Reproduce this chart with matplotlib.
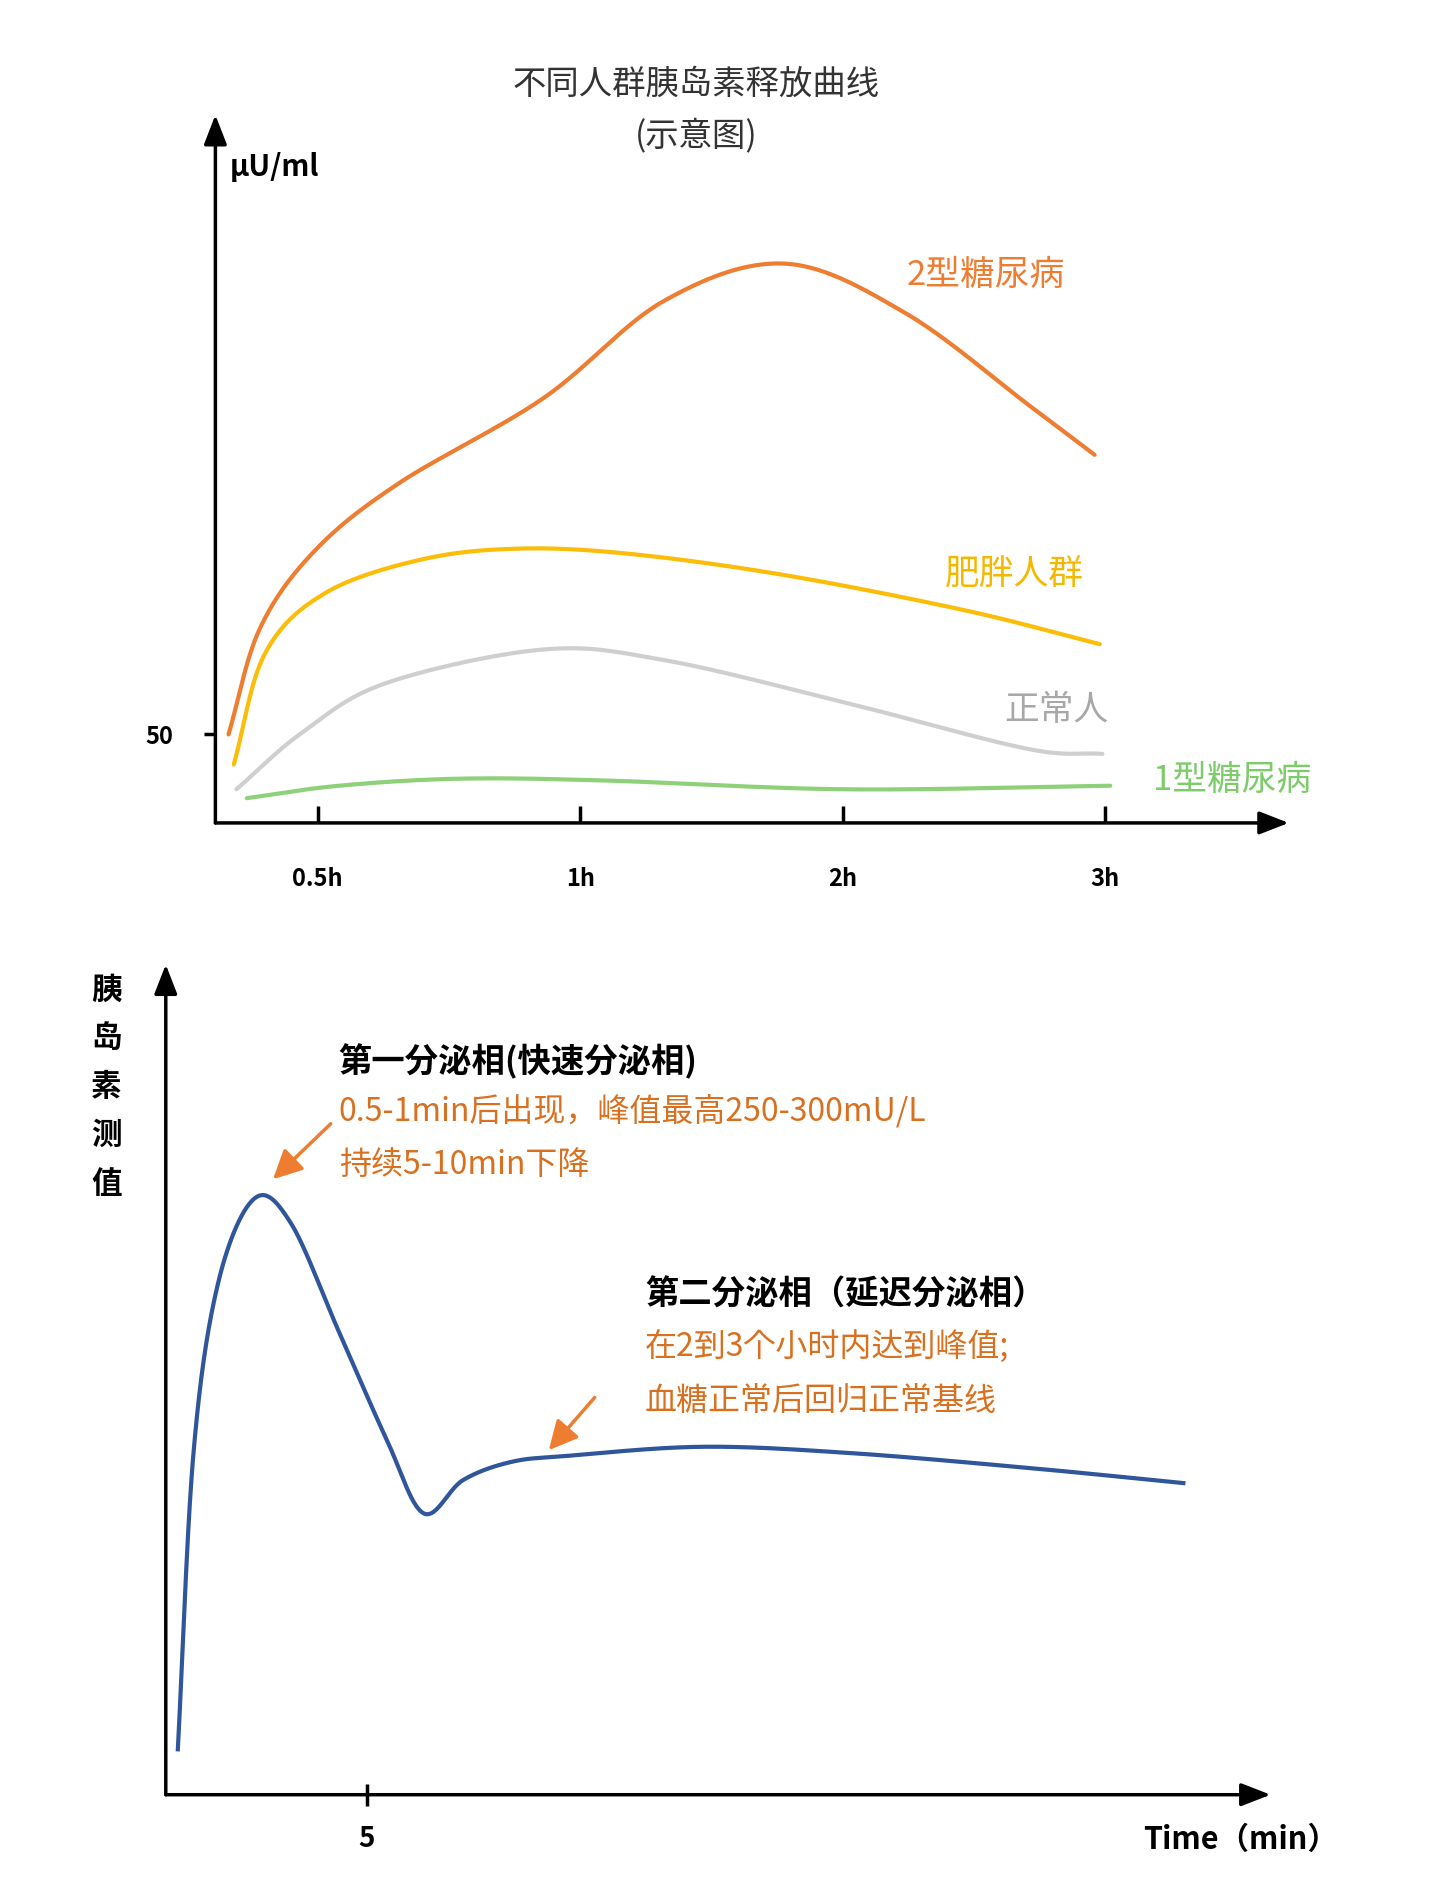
import numpy as np
import matplotlib
matplotlib.use("Agg")
import matplotlib.pyplot as plt
from matplotlib import font_manager as fm

cjk = None
for f in fm.fontManager.ttflist:
    if "CJK" in f.name and ("SC" in f.name or cjk is None):
        cjk = f.name
if cjk is None:
    import glob
    for p in glob.glob("/usr/share/fonts/**/*CJK*", recursive=True):
        try:
            fm.fontManager.addfont(p)
        except Exception:
            pass
    for f in fm.fontManager.ttflist:
        if "CJK" in f.name:
            cjk = f.name
plt.rcParams["font.family"] = [cjk or "Noto Sans CJK SC", "DejaVu Sans"]

# ---- data: top chart (x: tick index 1=0.5h,2=1h,3=2h,4=3h ; y: μU/ml) ----
tick_pos = [1, 2, 3, 4]
tick_labels = ["0.5h", "1h", "2h", "3h"]
t2_x = [0.66, 0.78, 0.99, 1.31, 1.86, 2.32, 2.78, 3.24, 3.71, 3.96]
t2_y = [50, 110, 154, 192, 240, 295, 316, 288, 236, 208]
ob_x = [0.68, 0.80, 1.03, 1.40, 1.77, 2.19, 2.78, 3.47, 3.98]
ob_y = [33, 96, 130, 149, 155, 152, 140, 120, 101]
nm_x = [0.69, 0.94, 1.26, 1.86, 2.32, 3.01, 3.70, 3.99]
nm_y = [19, 51, 79, 98, 92, 68, 42, 39]
t1_x = [0.73, 1.08, 1.54, 2.09, 3.01, 4.02]
t1_y = [14, 21, 25, 24, 19, 21]
series_names = ["2型糖尿病", "肥胖人群", "正常人", "1型糖尿病"]
series_colors = ["#ee7d31", "#fbbd08", "#cfcfcf", "#8fd17a"]
label_colors = ["#ee7d31", "#f5b800", "#a8a8a8", "#7dcc6a"]

# ---- data: bottom chart (time in min, insulin arbitrary units) ----
bt = [0.30, 0.69, 1.30, 2.20, 3.11, 4.31, 5.51, 6.42, 7.4, 8.6, 10.0, 13.34, 16.96, 21.48, 25.33]
by = [15, 113, 169, 197, 189, 153, 117, 93, 104, 110, 112, 115, 113, 108, 103]


def smooth(x, y, n=30):
    p = np.column_stack([x, y]).astype(float)
    p = np.vstack([2 * p[0] - p[1], p, 2 * p[-1] - p[-2]])
    out = []
    t = np.linspace(0, 1, n, endpoint=False)[:, None]
    for i in range(1, len(p) - 2):
        p0, p1, p2, p3 = p[i - 1], p[i], p[i + 1], p[i + 2]
        seg = 0.5 * ((2 * p1) + (-p0 + p2) * t + (2 * p0 - 5 * p1 + 4 * p2 - p3) * t ** 2
                     + (-p0 + 3 * p1 - 3 * p2 + p3) * t ** 3)
        out.append(seg)
    out.append(p[-2][None, :])
    out = np.vstack(out)
    return out[:, 0], out[:, 1]


W, H = 1190.0, 1570.0
fig = plt.figure(figsize=(14.4, 19), dpi=100)


def fx(px):
    return px / W


def fy(py):
    return 1 - py / H


def axes_px(x0, y0, x1, y1):
    return fig.add_axes([fx(x0), fy(y1), fx(x1) - fx(x0), (y1 - y0) / H])


def arrows(ax):
    for s in ax.spines.values():
        s.set_visible(False)
    kw = dict(arrowstyle="-|>,head_length=0.9,head_width=0.35", lw=2.5, color="black",
              shrinkA=0, shrinkB=0, mutation_scale=20)
    ax.annotate("", xy=(1, 0), xytext=(0, 0), xycoords="axes fraction", arrowprops=kw)
    ax.annotate("", xy=(0, 1), xytext=(0, 0), xycoords="axes fraction", arrowprops=kw)


# ---------- top chart ----------
ax = axes_px(178, 95, 1065, 680)
ax.set_xlim(0.61, 4.70)
ax.set_ylim(0, 400)
arrows(ax)
for (x, y), c in zip([(t2_x, t2_y), (ob_x, ob_y), (nm_x, nm_y), (t1_x, t1_y)], series_colors):
    sx, sy = smooth(x, y)
    ax.plot(sx, sy, color=c, lw=3, solid_capstyle="round")
ax.set_xticks(tick_pos)
ax.set_xticklabels(tick_labels, fontsize=17, fontweight="bold")
ax.set_yticks([50])
ax.set_yticklabels(["50"], fontsize=17, fontweight="bold")
ax.tick_params(axis="x", direction="in", length=12, width=2.5, pad=32)
ax.tick_params(axis="y", direction="out", length=8, width=2.5, pad=22)
ax.patch.set_alpha(0)

label_pos = [(815, 228), (838, 475), (873, 587), (1018, 645)]
for name, c, (px, py) in zip(series_names, label_colors, label_pos):
    fig.text(fx(px), fy(py), name, color=c, fontsize=25, ha="center", va="center")

fig.text(fx(575), fy(70), "不同人群胰岛素释放曲线", fontsize=24, ha="center", va="center", color="#333333")
fig.text(fx(575), fy(112), "(示意图)", fontsize=24, ha="center", va="center", color="#333333")
fig.text(fx(190), fy(138), "μU/ml", fontsize=21, fontweight="bold", ha="left", va="center")

# ---------- bottom chart ----------
bx = axes_px(137, 797, 1050, 1483)
bx.set_xlim(0, 27.5)
bx.set_ylim(0, 274.4)
arrows(bx)
sx, sy = smooth(bt, by)
bx.plot(sx, sy, color="#2f559a", lw=3)
bx.set_xticks([5])
bx.set_xticklabels(["5"], fontsize=20, fontweight="bold")
bx.set_yticks([])
bx.tick_params(axis="x", direction="inout", length=16, width=2.5, pad=14)
bx.patch.set_alpha(0)

for i, ch in enumerate("胰岛素测值"):
    fig.text(fx(88), fy(818 + i * 40), ch, fontsize=22, fontweight="bold", ha="center", va="center")

org = "#d9701f"
fig.text(fx(280), fy(877), "第一分泌相(快速分泌相)", fontsize=24, fontweight="bold", ha="left", va="center")
fig.text(fx(280), fy(918), "0.5-1min后出现，峰值最高250-300mU/L", fontsize=23, color=org, ha="left", va="center")
fig.text(fx(280), fy(963), "持续5-10min下降", fontsize=23, color=org, ha="left", va="center")
fig.text(fx(533), fy(1070), "第二分泌相（延迟分泌相）", fontsize=24, fontweight="bold", ha="left", va="center")
fig.text(fx(533), fy(1113), "在2到3个小时内达到峰值;", fontsize=23, color=org, ha="left", va="center")
fig.text(fx(533), fy(1158), "血糖正常后回归正常基线", fontsize=23, color=org, ha="left", va="center")
fig.text(fx(1025), fy(1520), "Time（min）", fontsize=22, fontweight="bold", ha="center", va="center")

akw = dict(arrowstyle="-|>,head_length=0.8,head_width=0.4", lw=2.5, color="#ee7d31",
           mutation_scale=22)
fig.add_artist(matplotlib.patches.FancyArrowPatch((fx(275), fy(927)), (fx(224), fy(976)),
                                                  transform=fig.transFigure, **akw))
fig.add_artist(matplotlib.patches.FancyArrowPatch((fx(493), fy(1153)), (fx(452), fy(1200)),
                                                  transform=fig.transFigure, **akw))

fig.savefig("out.png", dpi=100, facecolor="white")
